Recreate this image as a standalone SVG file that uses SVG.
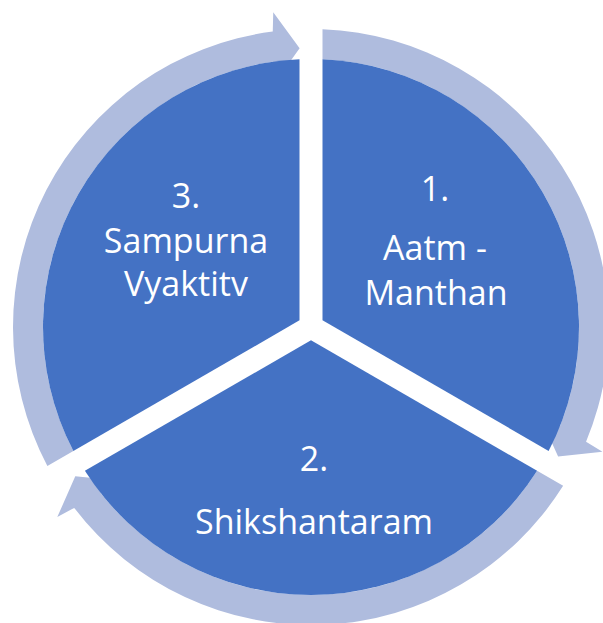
<svg xmlns="http://www.w3.org/2000/svg" width="603" height="623" viewBox="0 0 603 623">
  <style>
    .wedge { fill: #4472C4; }
    .ring { fill: #AFBCDE; }
    .lbl { fill: #FFFFFF; font-family: "Open Sans", "Noto Sans", "Liberation Sans", sans-serif; font-size: 34px; text-anchor: middle; }
  </style>
  <defs>
    <path id="wedgeShape" d="M 322.5 320.36 L 322.5 59.25 A 268 268 0 0 1 548.62 450.92 Z"/>
    <path id="arrowShape" d="M 322.5 29.22 A 298 298 0 0 1 586.05 441.64 L 602.45 451.68 L 558.12 456.51 L 539.49 415.45 L 559.84 426.54 A 268 268 0 0 0 322.5 59.25 Z"/>
  </defs>
  <rect x="0" y="0" width="603" height="623" fill="#FFFFFF"/>
  <g id="connectors">
    <use href="#arrowShape" class="ring"/>
    <use href="#arrowShape" class="ring" transform="rotate(120 311 327)"/>
    <use href="#arrowShape" class="ring" transform="rotate(240 311 327)"/>
  </g>
  <g id="node-1">
    <use href="#wedgeShape" class="wedge"/>
    <text class="lbl" x="435" y="201">1.</text>
    <text class="lbl" x="435" y="260">Aatm -</text>
    <text class="lbl" x="436" y="305">Manthan</text>
  </g>
  <g id="node-2">
    <use href="#wedgeShape" class="wedge" transform="rotate(120 311 327)"/>
    <text class="lbl" x="314" y="471">2.</text>
    <text class="lbl" x="314" y="534">Shikshantaram</text>
  </g>
  <g id="node-3">
    <use href="#wedgeShape" class="wedge" transform="rotate(240 311 327)"/>
    <text class="lbl" x="186" y="208">3.</text>
    <text class="lbl" x="186" y="253">Sampurna</text>
    <text class="lbl" x="186" y="296">Vyaktitv</text>
  </g>
</svg>
